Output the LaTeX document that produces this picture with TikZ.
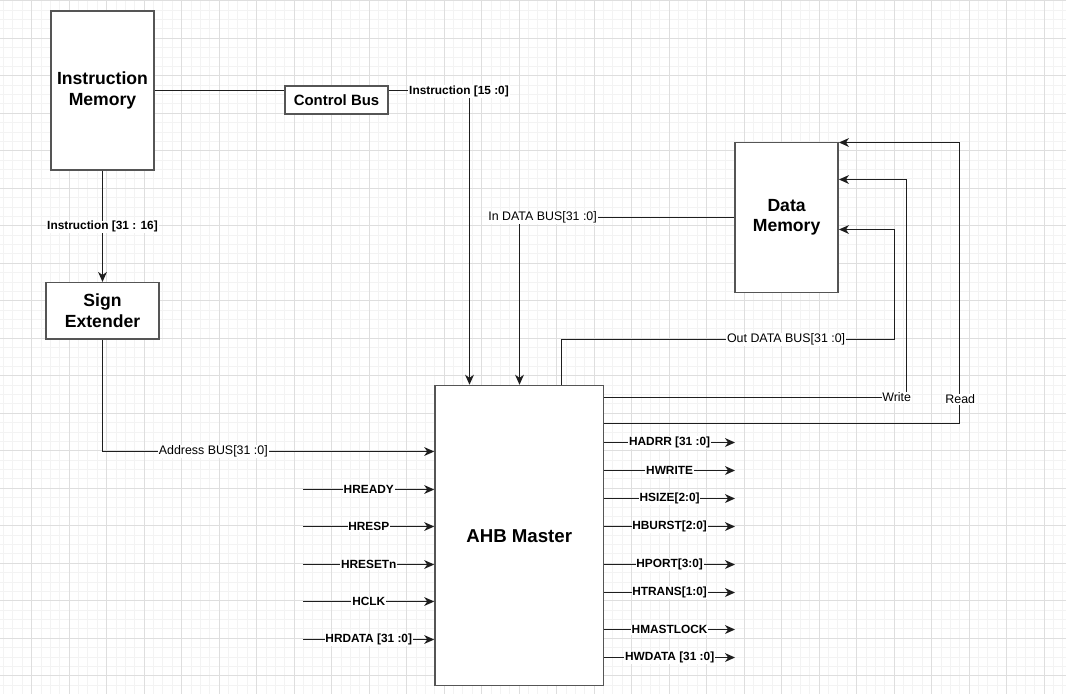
\documentclass[tikz,border=0pt]{standalone}
\usepackage{fontspec}
\setmainfont{Liberation Sans}
\usetikzlibrary{arrows.meta}
\definecolor{gridmajor}{HTML}{DEDEDE}
\definecolor{gridminor}{HTML}{F3F3F3}
\definecolor{boxline}{HTML}{555555}
\definecolor{wire}{HTML}{1E1E1E}
\begin{document}
\begin{tikzpicture}[x=0.75pt,y=-0.75pt,
  box/.style={draw=boxline, line width=1.1pt, fill=white, align=center, inner sep=0pt,
    font=\bfseries\fontsize{13.2}{15.5}\selectfont},
  wireline/.style={draw=wire, line width=0.8pt},
  arr/.style={wireline, -{Stealth[length=7.5pt,width=6.6pt,inset=2.3pt]}},
  lbl/.style={fill=white, inner sep=0.6pt, font=\fontsize{9.3}{10}\selectfont},
  hlbl/.style={fill=white, inner sep=0.6pt, font=\bfseries\fontsize{8.9}{10}\selectfont},
  minorgrid/.style={draw=gridminor, line width=0.75pt},
  majorgrid/.style={draw=gridmajor, line width=0.75pt}]
\useasboundingbox (0,0) rectangle (1066,694);
\fill[white] (0,0) rectangle (1066,694);
% grid
\foreach \i in {0,...,113} { \draw[minorgrid] ({3.575+9.375*\i},0) -- ++(0,694); }
\foreach \i in {0,...,73} { \draw[minorgrid] (0,{0.8+9.375*\i}) -- ++(1066,0); }
\foreach \i in {0,...,27} { \draw[majorgrid] ({31.7+37.5*\i},0) -- ++(0,694); }
\foreach \i in {0,...,18} { \draw[majorgrid] (0,{0.8+37.5*\i}) -- ++(1066,0); }

% boxes
\node[box, minimum width=77.25pt, minimum height=119.25pt] (IM) at (102.5,90.5) {Instruction\\Memory};
\node[box, minimum width=77.25pt, minimum height=21pt, font=\bfseries\fontsize{11.2}{13}\selectfont] (CB) at (336.5,100) {Control Bus};
\node[box, minimum width=84.5pt, minimum height=42.2pt] (SE) at (102.5,310.8) {Sign\\Extender};
\node[box, minimum width=126.4pt, minimum height=225.2pt, font=\bfseries\fontsize{14}{16}\selectfont, text depth=0pt] (AHB) at (519.2,535.6) {AHB Master};
\node[box, minimum width=77.4pt, minimum height=112.5pt] (DM) at (786.6,217.3) {Data\\Memory};

% helper coordinates
\coordinate (y90) at (0,90.5);
\coordinate (c1) at (469.5,90.5);
\coordinate (c2) at (0,451.5);
\coordinate (c3) at (519.5,217.5);
\coordinate (o1) at (561.5,339.5);
\coordinate (o2) at (894.5,229.5);
\coordinate (w1) at (906.5,397.5);
\coordinate (w2) at (906.5,179.5);
\coordinate (r1) at (959.5,423.5);
\coordinate (r2) at (959.5,142.5);

% instruction memory -> control bus -> AHB
\draw[wireline] (IM.east |- y90) -- (CB.west |- y90);
\draw[arr] (CB.east |- y90) -- (c1) -- (c1 |- AHB.north);
\node[hlbl] (l1516) at (459,91.5) {Instruction [15 :0]};

% instruction memory -> sign extender
\draw[arr] (IM.south) -- (SE.north) node[hlbl, pos=0.505] (l3116) {Instruction [31 : 16]};

% sign extender -> AHB
\draw[arr] (SE.south) |- (AHB.west |- c2);
\node[lbl] (laddr) at (213.3,451.5) {Address BUS[31 :0]};

% data memory -> AHB
\draw[arr] (DM.west |- c3) -- (c3) -- (c3 |- AHB.north);
\node[lbl] (lin) at (542.6,217.5) {In DATA BUS[31 :0]};

% AHB -> data memory
\draw[arr] (o1 |- AHB.north) -- (o1) -- (o1 -| o2) -- (o2) -- (DM.east |- o2);
\node[lbl] (lout) at (786.1,339.5) {Out DATA BUS[31 :0]};

\draw[arr] (AHB.east |- w1) -- (w1) -- (w2) -- (DM.east |- w2);
\node[lbl] (lwrite) at (896.7,397.5) {Write};

\draw[arr] (AHB.east |- r1) -- (r1) -- (r2) -- (DM.east |- r2);
\node[lbl] (lread) at (960.3,399.5) {Read};

% inputs
\foreach \n/\y/\t in {iready/489.5/HREADY, iresp/526.5/HRESP, ireset/564.5/HRESETn, iclk/601.5/HCLK, irdata/639.5/{HRDATA [31 :0]}} {
  \coordinate (\n) at (303.3,\y);
  \draw[arr] (\n) -- (AHB.west |- \n) node[hlbl, midway] (\n-l) {\t};
}
% outputs
\foreach \n/\y/\t in {oaddr/442.5/{HADRR [31 :0]}, owrite/470.5/HWRITE, osize/498.5/{HSIZE[2:0]}, oburst/526.5/{HBURST[2:0]}, oport/564.5/{HPORT[3:0]}, otrans/592.5/{HTRANS[1:0]}, olock/629.5/HMASTLOCK, owdata/657.5/{HWDATA [31 :0]}} {
  \coordinate (\n) at (735,\y);
  \draw[arr] (AHB.east |- \n) -- (\n) node[hlbl, midway] (\n-l) {\t};
}
\end{tikzpicture}
\end{document}
